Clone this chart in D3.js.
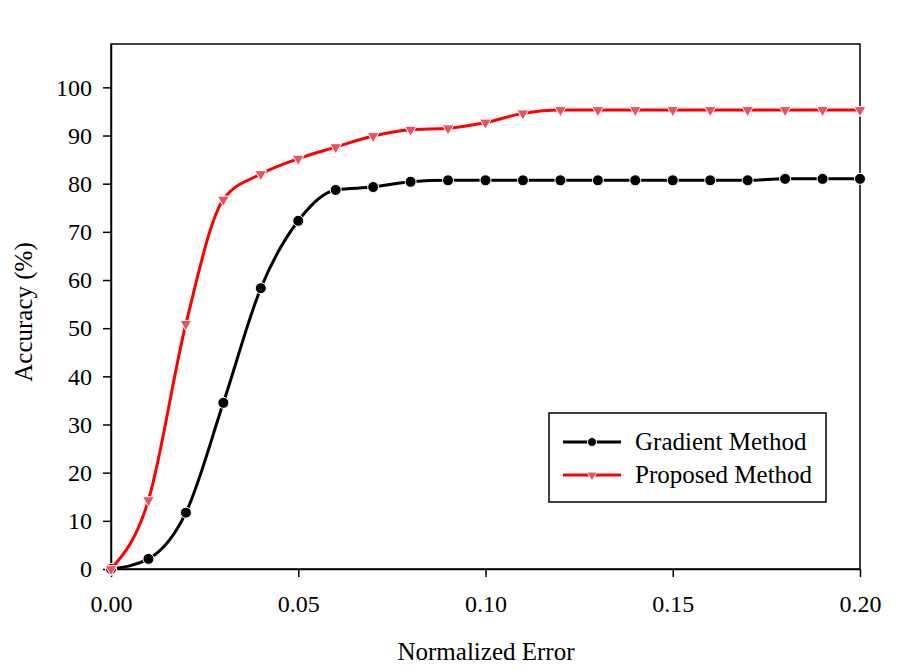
<!DOCTYPE html>
<html>
<head>
<meta charset="utf-8">
<script src="https://cdn.jsdelivr.net/npm/d3@7"></script>
<style>
  html, body { margin: 0; padding: 0; background: #fff; }
  svg { display: block; }
  text { font-family: "Liberation Serif", "Times New Roman", serif; fill: #000; }
</style>
</head>
<body>
<script>
const xValues = [0.00, 0.01, 0.02, 0.03, 0.04, 0.05, 0.06, 0.07, 0.08, 0.09, 0.10,
                 0.11, 0.12, 0.13, 0.14, 0.15, 0.16, 0.17, 0.18, 0.19, 0.20];
const gradientValues = [0, 2.1, 11.7, 34.5, 58.3, 72.3, 78.7, 79.3, 80.4, 80.7, 80.7,
                        80.7, 80.7, 80.7, 80.7, 80.7, 80.7, 80.7, 81.0, 81.0, 81.0];
const proposedValues = [0, 14.3, 50.9, 76.7, 82.0, 85.2, 87.6, 89.9, 91.2, 91.5, 92.7,
                        94.6, 95.3, 95.3, 95.3, 95.3, 95.3, 95.3, 95.3, 95.3, 95.3];
const xTicks = [0, 0.05, 0.10, 0.15, 0.20];
const yTicks = [0, 10, 20, 30, 40, 50, 60, 70, 80, 90, 100];
const seriesNames = ["Gradient Method", "Proposed Method"];
const xTitle = "Normalized Error";
const yTitle = "Accuracy (%)";

const W = 903, H = 671;
const pLeft = 111, pRight = 860, pTop = 44, pBottom = 569;

const svg = d3.select("body").append("svg").attr("width", W).attr("height", H);

const x = d3.scaleLinear().domain([0, 0.2]).range([pLeft, pRight]);
const y = d3.scaleLinear().domain([0, 109]).range([pBottom, pTop]);

// frame
svg.append("rect").attr("x", pLeft).attr("y", pTop)
  .attr("width", pRight - pLeft).attr("height", pBottom - pTop)
  .attr("fill", "none").attr("stroke", "#000").attr("stroke-width", 1.5);

const fsTick = 24, fsTitle = 25;
const xAxis = svg.append("g").attr("transform", `translate(0,${pBottom})`)
  .call(d3.axisBottom(x).tickValues(xTicks).tickFormat(d3.format(".2f"))
    .tickSizeInner(8).tickSizeOuter(0).tickPadding(18));
const yAxis = svg.append("g").attr("transform", `translate(${pLeft},0)`)
  .call(d3.axisLeft(y).tickValues(yTicks).tickSizeInner(8).tickSizeOuter(0).tickPadding(11));
[xAxis, yAxis].forEach(a => {
  a.select(".domain").attr("stroke", "#000").attr("stroke-width", 1.5);
  a.selectAll(".tick line").attr("stroke", "#000").attr("stroke-width", 1.5);
  a.selectAll("text").attr("font-size", fsTick).attr("font-family", "Liberation Serif").attr("fill", "#000");
});

svg.append("text").attr("x", 486).attr("y", 660)
  .attr("text-anchor", "middle").attr("font-size", fsTitle).text(xTitle);
svg.append("text").attr("transform", `translate(32,312) rotate(-90)`)
  .attr("text-anchor", "middle").attr("font-size", fsTitle).text(yTitle);

const line = d3.line().x(d => x(d[0])).y(d => y(d[1])).curve(d3.curveMonotoneX);
const gData = xValues.map((v, i) => [v, gradientValues[i]]);
const pData = xValues.map((v, i) => [v, proposedValues[i]]);

const tri = d3.symbol().type(d3.symbolTriangle).size(60);

function drawSeries(data, color, kind) {
  svg.append("path").datum(data).attr("d", line)
    .attr("fill", "none").attr("stroke", color).attr("stroke-width", 3);
  const g = svg.append("g");
  if (kind === "circle") {
    g.selectAll("circle").data(data).join("circle")
      .attr("cx", d => x(d[0])).attr("cy", d => y(d[1])).attr("r", 5.5)
      .attr("fill", "#000").attr("stroke", "#fff").attr("stroke-width", 1);
  } else {
    g.selectAll("path").data(data).join("path")
      .attr("d", tri)
      .attr("transform", d => `translate(${x(d[0])},${y(d[1])}) rotate(180)`)
      .attr("fill", "#f0505e").attr("stroke", "#fff").attr("stroke-width", 1);
  }
}
drawSeries(gData, "#000", "circle");
drawSeries(pData, "#ff0000", "tri");

// legend
const lg = svg.append("g");
lg.append("rect").attr("x", 549).attr("y", 413).attr("width", 277).attr("height", 89)
  .attr("fill", "#fff").attr("stroke", "#000").attr("stroke-width", 1.5);
const legendItems = [
  { name: seriesNames[0], color: "#000", kind: "circle", yy: 442 },
  { name: seriesNames[1], color: "#ff0000", kind: "tri", yy: 475 }
];
legendItems.forEach(it => {
  lg.append("line").attr("x1", 563).attr("x2", 621).attr("y1", it.yy).attr("y2", it.yy)
    .attr("stroke", it.color).attr("stroke-width", 3);
  if (it.kind === "circle") {
    lg.append("circle").attr("cx", 592).attr("cy", it.yy).attr("r", 4.5)
      .attr("fill", "#000").attr("stroke", "#fff").attr("stroke-width", 1);
  } else {
    lg.append("path").attr("d", d3.symbol().type(d3.symbolTriangle).size(45))
      .attr("transform", `translate(592,${it.yy}) rotate(180)`)
      .attr("fill", "#f0505e").attr("stroke", "#fff").attr("stroke-width", 1);
  }
  lg.append("text").attr("x", 635).attr("y", it.yy + 8).attr("font-size", fsTitle).text(it.name);
});
</script>
</body>
</html>
